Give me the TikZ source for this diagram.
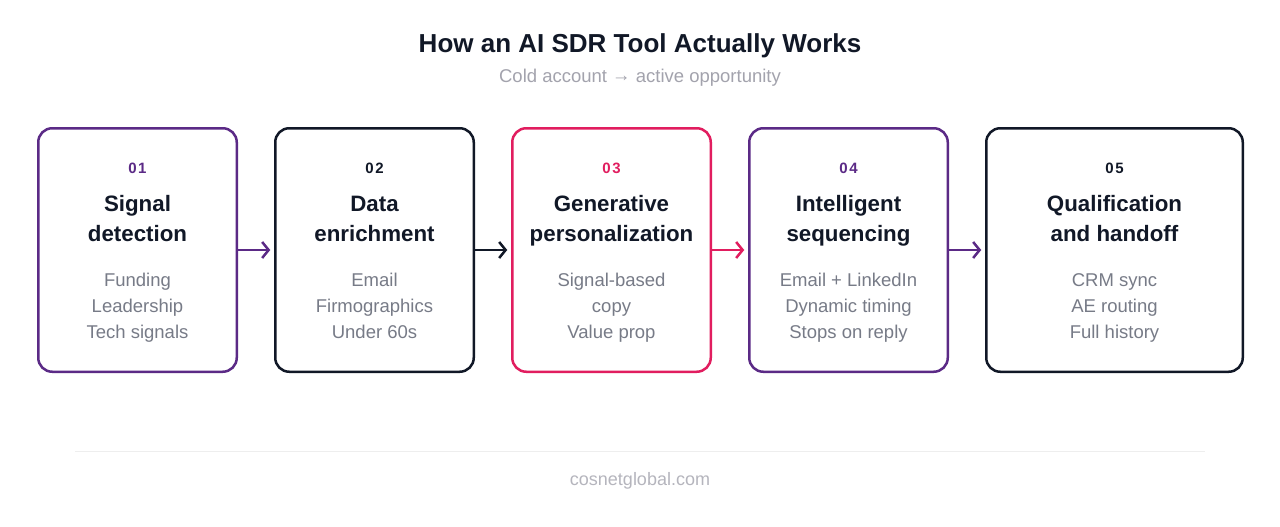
\documentclass[tikz,border=0pt]{standalone}
\usepackage{fontspec}
\setmainfont{Liberation Sans}
\newfontfamily\stagenumfont[LetterSpace=10]{Liberation Sans}
\usetikzlibrary{arrows.meta, positioning}
\definecolor{sdrpurple}{HTML}{5B2A86}
\definecolor{sdrpink}{HTML}{E11D5F}
\definecolor{sdrink}{HTML}{111827}
\definecolor{sdrgray}{HTML}{777B87}
\definecolor{sdrsub}{HTML}{A3A3AD}
\definecolor{sdrfoot}{HTML}{B5B5BD}
\definecolor{sdrrule}{HTML}{EEEEEE}
\tikzset{
  stagebox/.style={rectangle, rounded corners=14pt, line width=2.5pt, fill=white,
                   minimum width=198.5pt, minimum height=243.5pt, inner sep=0pt, outer sep=0pt},
  stagenum/.style={anchor=base, font=\stagenumfont\bfseries\fontsize{15}{18}\selectfont},
  stagehead/.style={anchor=base, align=center, text=sdrink,
                    font=\bfseries\fontsize{22.3}{30}\selectfont},
  stageitems/.style={anchor=base, align=center, text=sdrgray,
                     font=\fontsize{18.5}{26}\selectfont},
  flow/.style={-{Straight Barb[length=6.5pt,width=16pt]}, line width=2.5pt, shorten >=5pt},
}

\begin{document}
\begin{tikzpicture}[x=1pt, y=1pt, node distance=38.5pt]
    \useasboundingbox[fill=white] (0,0) rectangle (1280,-527);
    % heading
    \node[anchor=base, text=sdrink, font=\bfseries\fontsize{26}{30}\selectfont] (title) at (640,-53) {How an AI SDR Tool Actually Works};
    \node[anchor=base, text=sdrsub, font=\fontsize{18.5}{22}\selectfont] (subtitle) at (640,-83) {Cold account \raisebox{1.5pt}{→} active opportunity};
    % stages
    \node[stagebox, draw=sdrpurple] (signal) at (137.5,-250) {};
    \node[stagebox, draw=sdrink, right=of signal] (enrich) {};
    \node[stagebox, draw=sdrpink, right=of enrich] (genpers) {};
    \node[stagebox, draw=sdrpurple, right=of genpers] (sequence) {};
    \node[stagebox, draw=sdrink, minimum width=256.5pt, right=of sequence] (handoff) {};
    \node[stagenum, text=sdrpurple] (signal-num) at ([yshift=-45pt]signal.north) {01};
    \node[stagehead] (signal-head) at ([yshift=-113pt]signal.north) {Signal\\detection};
    \node[stageitems] (signal-items) at ([yshift=-210.5pt]signal.north) {Funding\\Leadership\\Tech signals};
    \node[stagenum, text=sdrink] (enrich-num) at ([yshift=-45pt]enrich.north) {02};
    \node[stagehead] (enrich-head) at ([yshift=-113pt]enrich.north) {Data\\enrichment};
    \node[stageitems] (enrich-items) at ([yshift=-210.5pt]enrich.north) {Email\\Firmographics\\Under 60s};
    \node[stagenum, text=sdrpink] (genpers-num) at ([yshift=-45pt]genpers.north) {03};
    \node[stagehead] (genpers-head) at ([yshift=-113pt]genpers.north) {Generative\\personalization};
    \node[stageitems] (genpers-items) at ([yshift=-210.5pt]genpers.north) {Signal-based\\copy\\Value prop};
    \node[stagenum, text=sdrpurple] (sequence-num) at ([yshift=-45pt]sequence.north) {04};
    \node[stagehead] (sequence-head) at ([yshift=-113pt]sequence.north) {Intelligent\\sequencing};
    \node[stageitems] (sequence-items) at ([yshift=-210.5pt]sequence.north) {Email + LinkedIn\\Dynamic timing\\Stops on reply};
    \node[stagenum, text=sdrink] (handoff-num) at ([yshift=-45pt]handoff.north) {05};
    \node[stagehead] (handoff-head) at ([yshift=-113pt]handoff.north) {Qualification\\and handoff};
    \node[stageitems] (handoff-items) at ([yshift=-210.5pt]handoff.north) {CRM sync\\AE routing\\Full history};
    % flow between stages
    \draw[flow, draw=sdrpurple] (signal) -- (enrich);
    \draw[flow, draw=sdrink] (enrich) -- (genpers);
    \draw[flow, draw=sdrpink] (genpers) -- (sequence);
    \draw[flow, draw=sdrpurple] (sequence) -- (handoff);
    % footer
    \draw[sdrrule, line width=1pt] (75,-451) -- (1205,-451);
    \node[anchor=base, text=sdrfoot, font=\fontsize{18}{22}\selectfont] (footer) at (640,-485) {cosnetglobal.com};
  \end{tikzpicture}
\end{document}
